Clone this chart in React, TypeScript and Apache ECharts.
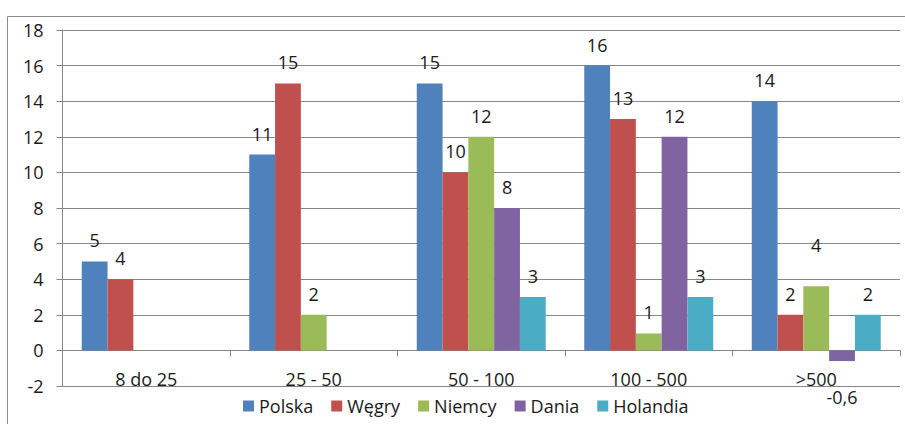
import React, { useEffect, useRef } from "react";
import * as echarts from "echarts";

const categories = ["8 do 25", "25 - 50", "50 - 100", "100 - 500", ">500"];
const seriesNames = ["Polska", "Węgry", "Niemcy", "Dania", "Holandia"];
const polska = [5, 11, 15, 16, 14];
const wegry = [4, 15, 10, 13, 2];
const niemcy = [null, 2, 12, 0.95, 3.6];
const dania = [null, null, 8, 12, -0.6];
const holandia = [null, null, 3, 3, 2];
const yTicks = { min: -2, max: 18, interval: 2 };

const colors = ["#4F81BD", "#C0504D", "#9BBB59", "#8064A2", "#4BACC6"];
const FONT = "Open Sans";
const FS = 18;
const TXT = "#1a1a1a";

export default function App() {
  const ref = useRef<HTMLDivElement>(null);
  useEffect(() => {
    if (!ref.current) return;
    const chart = echarts.init(ref.current, null, { renderer: "svg" });
    const all = [polska, wegry, niemcy, dania, holandia];
    const fmt = (v: number) =>
      v < 0 ? String(v).replace(".", ",") : String(Math.round(v));
    const series = all.map((arr, si) => ({
      name: seriesNames[si],
      type: "bar",
      barGap: "0%",
      barCategoryGap: "23%",
      itemStyle: { color: colors[si] },
      label: {
        show: true,
        position: "top",
        distance: 12,
        fontFamily: FONT,
        fontSize: FS,
        color: TXT,
        formatter: (p: any) => fmt(p.value),
      },
      data: arr.map((v, ci) => {
        if (v === null) return "-";
        if (v < 0) {
          return { value: v, label: { position: "bottom", distance: 27 } };
        }
        if (si === 2 && ci === 4) {
          return { value: v, label: { distance: 32 } };
        }
        return v;
      }),
    }));
    chart.setOption({
      animation: false,
      textStyle: { fontFamily: FONT },
      graphic: [
        {
          type: "rect",
          shape: { x: 7.5, y: 16.5, width: 1200, height: 800 },
          style: { fill: "none", stroke: "#8c8c8c", lineWidth: 1 },
          silent: true,
        },
      ],
      grid: { left: 62.5, right: 5, top: 30, bottom: 38 },
      legend: {
        data: seriesNames,
        left: 238,
        top: 392,
        icon: "rect",
        itemWidth: 11,
        itemHeight: 11,
        itemGap: 18,
        textStyle: { fontFamily: FONT, fontSize: FS, color: TXT },
      },
      xAxis: {
        type: "category",
        data: categories,
        axisLine: { onZero: true, lineStyle: { color: "#868686", width: 1 } },
        axisTick: { show: true, length: 6, lineStyle: { color: "#868686" } },
        axisLabel: { margin: -16, fontFamily: FONT, fontSize: FS, color: TXT },
      },
      yAxis: {
        type: "value",
        min: yTicks.min,
        max: yTicks.max,
        interval: yTicks.interval,
        axisLine: { show: true, lineStyle: { color: "#868686" } },
        axisTick: { show: true, length: 6, lineStyle: { color: "#868686" } },
        axisLabel: { margin: 19, fontFamily: FONT, fontSize: FS, color: TXT },
        splitLine: { lineStyle: { color: "#868686", width: 1 } },
      },
      series,
    });
    return () => chart.dispose();
  }, []);
  return (
    <div
      ref={ref}
      style={{ position: "fixed", left: 0, top: 0, width: 905, height: 424, background: "#fff" }}
    />
  );
}
